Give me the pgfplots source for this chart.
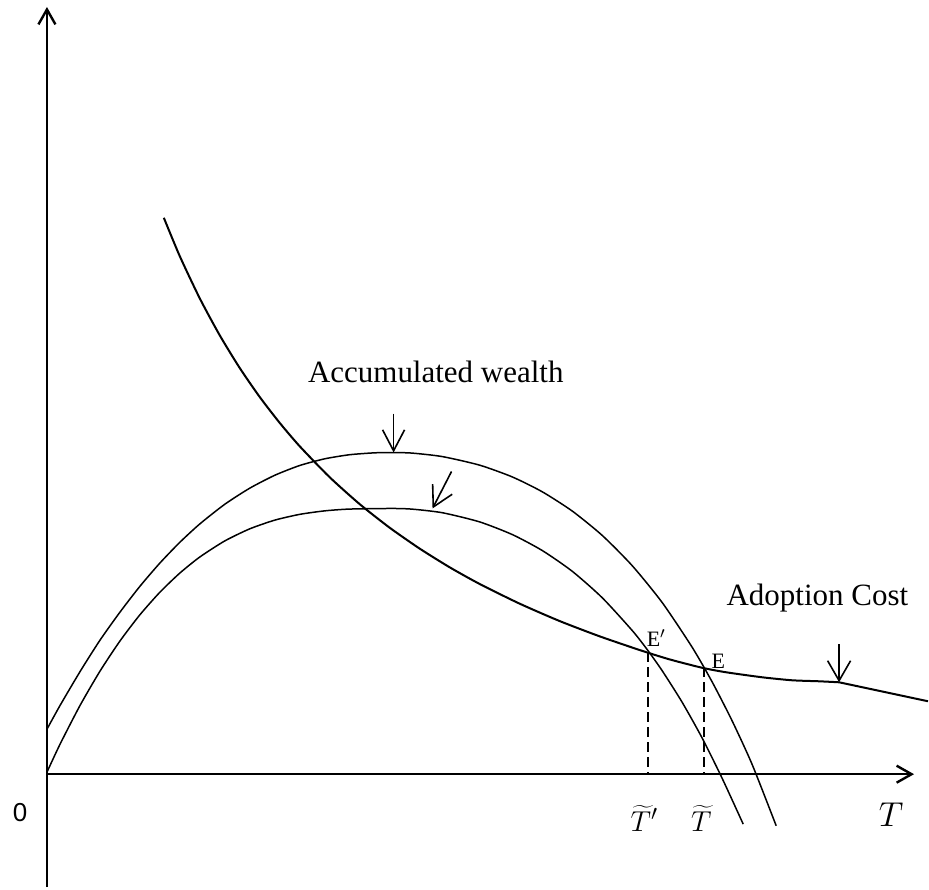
\documentclass[border=0pt]{standalone}
\usepackage{pgfplots}
\pgfplotsset{compat=1.18}
\usepackage{fontspec}
\setmainfont{Liberation Serif}
\newfontfamily\sansf{Liberation Sans}
\usetikzlibrary{arrows.meta}
\begin{document}
\begin{tikzpicture}
\begin{axis}[
  scale only axis, width=464.5pt, height=445pt,
  xmin=0, xmax=929, ymin=0, ymax=890, y dir=reverse,
  axis lines=none, clip=false,
]
% frame extent (invisible)
\addplot[draw=none] coordinates {(0,0) (929,890)};
% axes
\addplot[line width=1.2pt, -{Straight Barb[length=7.5pt,width=8.5pt]}] coordinates {(47,888) (47,7)};
\addplot[line width=1.2pt, -{Straight Barb[length=7.5pt,width=8.5pt]}] coordinates {(47,775) (915,775)};
% accumulated wealth (upper)
\addplot[line width=0.75pt, smooth, tension=0.4] coordinates {
(47,730) (60,706.4) (80,672.5) (100,641) (120,612.9) (140,587) (160,563.7)
(180,542.9) (200,524.5) (225,504.8) (250,488.7) (275,475.8) (300,466)
(325,459.3) (350,455.2) (375,453.3) (393,453) (413,453.6) (443,457.1)
(480,465.6) (513,477.5) (543,492.4) (573,511.7) (603,536.1) (633,566.4)
(663,603.3) (693,648.1) (713,682.8) (733,721.8) (753,765.4) (777,826.6)};
% accumulated wealth (lower)
\addplot[line width=0.75pt, smooth, tension=0.4] coordinates {
(47,773) (60,745.2) (80,706.4) (100,672) (120,641.8) (140,615.5) (160,592.9)
(180,573.7) (200,557.6) (225,541.5) (250,529.4) (275,520.7) (300,514.9)
(325,511.4) (350,509.6) (393,509) (413,509.7) (443,513.3) (480,522.4)
(513,535.2) (543,551.2) (573,572) (603,598.5) (633,631.3) (648,650.4)
(663,671.6) (683,703.2) (703,739) (723,779.3) (744,825)};
% adoption cost
\addplot[line width=1pt, smooth, tension=0.4] coordinates {
(164,218) (180,256.5) (200,298.7) (220,335.7) (240,368.4) (260,397.4)
(280,423.3) (300,446.7) (330,477.7) (360,504.6) (390,528.2) (420,549.1)
(450,567.8) (480,584.5) (520,604.2) (560,621.6) (600,636.9) (640,650.6)
(670,660) (703,668.5) (727,673) (763,678) (793,681) (820,682) (840,683)};
\addplot[line width=1pt] coordinates {(840,683) (929,702)};
% dashed verticals
\addplot[line width=1pt, dash pattern=on 5pt off 2.5pt] coordinates {(649,653) (649,775)};
\addplot[line width=1pt, dash pattern=on 5pt off 2.5pt] coordinates {(705,668) (705,775)};
% pointer arrows
\addplot[line width=0.8pt, -{Straight Barb[length=10.5pt,width=11pt]}] coordinates {(394,414) (394,453)};
\addplot[line width=0.8pt, -{Straight Barb[length=10pt,width=11pt]}] coordinates {(452,472) (433,509)};
\addplot[line width=0.8pt, -{Straight Barb[length=10pt,width=11.5pt]}] coordinates {(840,645) (840,683)};
% labels
\node[anchor=base west, inner sep=0pt, font=\fontsize{15.5}{18}\selectfont] at (axis cs:308,383) {Accumulated wealth};
\node[anchor=base west, inner sep=0pt, font=\fontsize{15.5}{18}\selectfont] at (axis cs:727,606) {Adoption Cost};
\node[inner sep=0pt, font=\fontsize{11}{13}\selectfont] at (axis cs:657,639) {E$'$};
\node[inner sep=0pt, font=\fontsize{11}{13}\selectfont] at (axis cs:719,662) {E};
\node[inner sep=0pt, font=\sansf\fontsize{13}{15}\selectfont] at (axis cs:20,813) {0};
\node[inner sep=0pt, font=\fontsize{15.5}{18}\selectfont] at (axis cs:645,819) {$\widetilde{T}'$};
\node[inner sep=0pt, font=\fontsize{15.5}{18}\selectfont] at (axis cs:702,819) {$\widetilde{T}$};
\node[inner sep=0pt, font=\fontsize{16}{19}\selectfont] at (axis cs:892,816) {$T$};
\end{axis}
\end{tikzpicture}
\end{document}
